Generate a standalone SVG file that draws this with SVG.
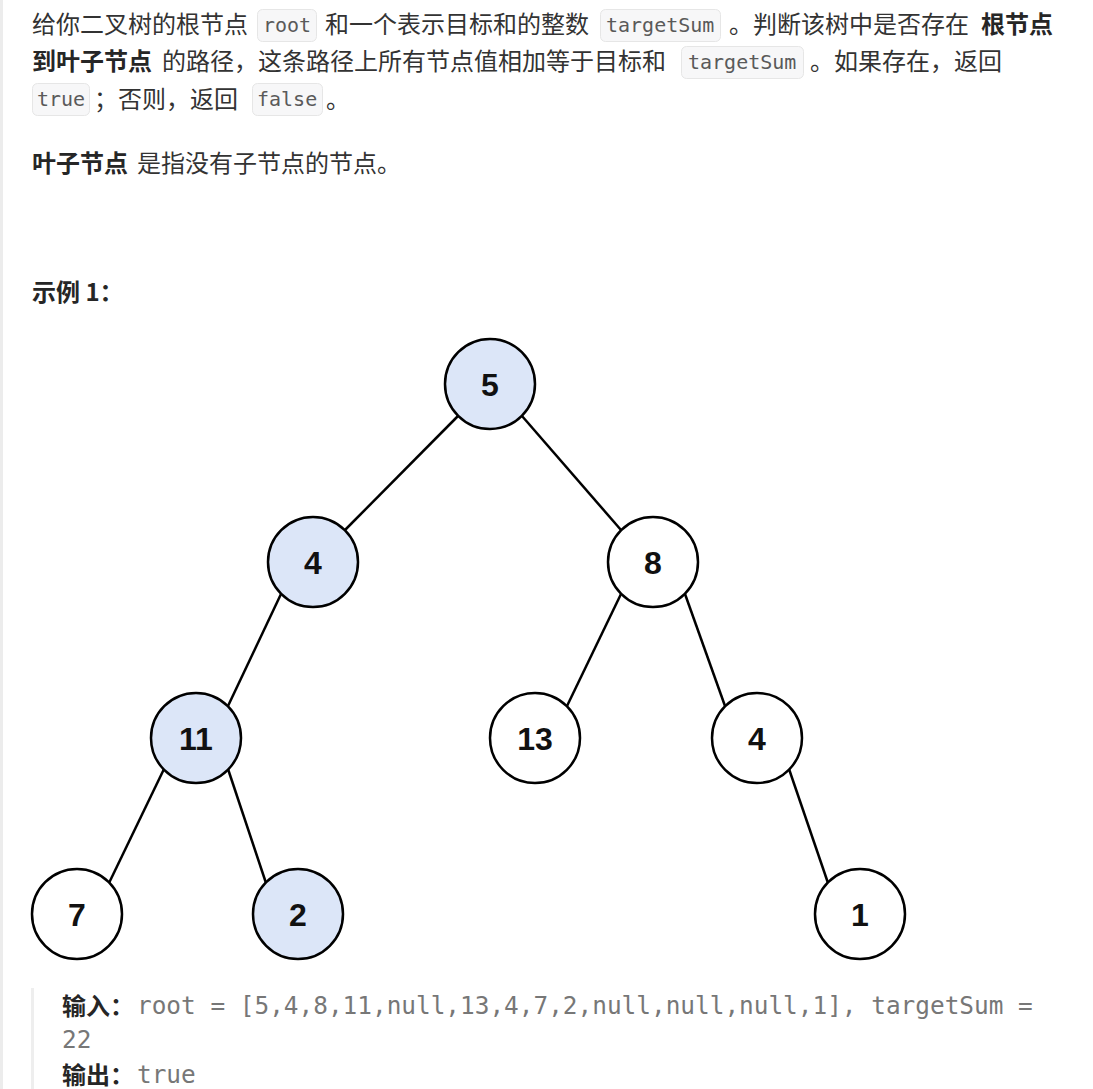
<svg xmlns="http://www.w3.org/2000/svg" width="1093" height="1089" viewBox="0 0 1093 1089">
  <style>
    .t { font-family: "Noto Sans CJK SC", "Noto Sans", sans-serif; font-size: 24px; fill: #333333; }
    .b { font-weight: bold; fill: #262626; }
    .code { font-family: "DejaVu Sans Mono", "Liberation Mono", monospace; font-size: 20px; fill: #5a5a5a; }
    .cbox { fill: #f7f7f8; stroke: #e6e6e6; stroke-width: 1; }
    .mono { font-family: "DejaVu Sans Mono", "Liberation Mono", monospace; font-size: 24.4px; fill: #777777; }
    .node circle { stroke: #000000; stroke-width: 2.5; }
    .hl circle { fill: #dce6f8; }
    .pl circle { fill: #ffffff; }
    .node text { font-family: "Liberation Sans", Arial, sans-serif; font-weight: bold; font-size: 32px; fill: #111111; text-anchor: middle; }
    .edge { stroke: #000000; stroke-width: 2.5; fill: none; }
  </style>
  <rect width="1093" height="1089" fill="#ffffff"/>
  <rect x="0" y="0" width="3" height="1089" fill="#ececec"/>

  <!-- Paragraph line 1 -->
  <text class="t" x="32" y="33">给你二叉树的根节点</text>
  <rect class="cbox" x="257.5" y="9.5" width="59" height="32" rx="5"/>
  <text class="code" x="263" y="32">root</text>
  <text class="t" x="325" y="33">和一个表示目标和的整数</text>
  <rect class="cbox" x="600.5" y="9.5" width="120" height="32" rx="5"/>
  <text class="code" x="606" y="32">targetSum</text>
  <text class="t" x="729" y="33">。判断该树中是否存在</text>
  <text class="t b" x="981" y="33">根节点</text>

  <!-- line 2 -->
  <text class="t b" x="32" y="70">到叶子节点</text>
  <text class="t" x="162" y="70">的路径，这条路径上所有节点值相加等于目标和</text>
  <rect class="cbox" x="681.5" y="46.5" width="122" height="32" rx="5"/>
  <text class="code" x="688" y="69">targetSum</text>
  <text class="t" x="810" y="70">。如果存在，返回</text>

  <!-- line 3 -->
  <rect class="cbox" x="32.5" y="83.5" width="57" height="32" rx="5"/>
  <text class="code" x="37" y="106">true</text>
  <text class="t" x="94" y="108">；否则，返回</text>
  <rect class="cbox" x="252.5" y="83.5" width="70" height="32" rx="5"/>
  <text class="code" x="257" y="106">false</text>
  <text class="t" x="326" y="108">。</text>

  <!-- line 4 -->
  <text class="t b" x="32" y="172">叶子节点</text>
  <text class="t" x="137" y="172">是指没有子节点的节点。</text>

  <text class="t b" x="32" y="301">示例 1：</text>

  <!-- connectors -->
  <g id="connectors">
    <line class="edge" x1="458" y1="416" x2="345" y2="530"/>
    <line class="edge" x1="522" y1="416" x2="621" y2="530"/>
    <line class="edge" x1="281" y1="594" x2="228" y2="706"/>
    <line class="edge" x1="621" y1="594" x2="567" y2="706"/>
    <line class="edge" x1="685" y1="594" x2="725" y2="706"/>
    <line class="edge" x1="164" y1="769" x2="109" y2="883"/>
    <line class="edge" x1="228" y1="769" x2="266" y2="883"/>
    <line class="edge" x1="789" y1="769" x2="828" y2="883"/>
  </g>

  <!-- nodes -->
  <g id="n5" class="node hl"><circle cx="490" cy="384" r="45"/><text x="490" y="395.5">5</text></g>
  <g id="n4" class="node hl"><circle cx="313" cy="562" r="45"/><text x="313" y="573.5">4</text></g>
  <g id="n8" class="node pl"><circle cx="653" cy="562" r="45"/><text x="653" y="573.5">8</text></g>
  <g id="n11" class="node hl"><circle cx="196" cy="738" r="45"/><text x="196" y="749.5">11</text></g>
  <g id="n13" class="node pl"><circle cx="535" cy="738" r="45"/><text x="535" y="749.5">13</text></g>
  <g id="n4b" class="node pl"><circle cx="757" cy="738" r="45"/><text x="757" y="749.5">4</text></g>
  <g id="n7" class="node pl"><circle cx="77" cy="914" r="45"/><text x="77" y="925.5">7</text></g>
  <g id="n2" class="node hl"><circle cx="298" cy="914" r="45"/><text x="298" y="925.5">2</text></g>
  <g id="n1" class="node pl"><circle cx="860" cy="914" r="45"/><text x="860" y="925.5">1</text></g>

  <!-- example block -->
  <rect x="31" y="988" width="3" height="101" fill="#eeeeee"/>
  <text class="t b" x="62" y="1015">输入：</text>
  <text class="mono" x="137" y="1014">root = [5,4,8,11,null,13,4,7,2,null,null,null,1], targetSum =</text>
  <text class="mono" x="62" y="1048">22</text>
  <text class="t b" x="62" y="1084">输出：</text>
  <text class="mono" x="137" y="1083">true</text>
</svg>
